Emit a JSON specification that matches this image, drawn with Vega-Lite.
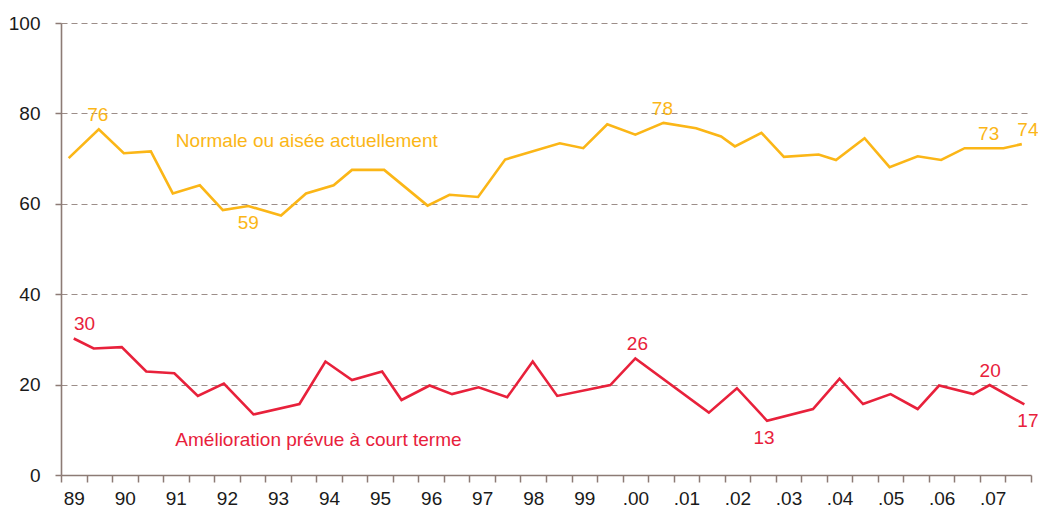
{
  "$schema": "https://vega.github.io/schema/vega-lite/v6.json",
  "width": 970,
  "height": 452,
  "autosize": {"type": "none"},
  "padding": {"left": 61, "top": 23, "right": 7, "bottom": 34},
  "background": "white",
  "config": {"view": {"stroke": null}, "font": "Liberation Sans", "text": {"font": "Liberation Sans"}},
  "datasets": {
    "lines": [
      {"series": "Normale", "t": 1989.15, "v": 70.1},
      {"series": "Normale", "t": 1989.74, "v": 76.5},
      {"series": "Normale", "t": 1990.23, "v": 71.2},
      {"series": "Normale", "t": 1990.76, "v": 71.6},
      {"series": "Normale", "t": 1991.19, "v": 62.3},
      {"series": "Normale", "t": 1991.72, "v": 64.1},
      {"series": "Normale", "t": 1992.17, "v": 58.6},
      {"series": "Normale", "t": 1992.67, "v": 59.5},
      {"series": "Normale", "t": 1993.31, "v": 57.4},
      {"series": "Normale", "t": 1993.80, "v": 62.3},
      {"series": "Normale", "t": 1994.34, "v": 64.1},
      {"series": "Normale", "t": 1994.70, "v": 67.5},
      {"series": "Normale", "t": 1995.33, "v": 67.5},
      {"series": "Normale", "t": 1996.18, "v": 59.6},
      {"series": "Normale", "t": 1996.61, "v": 62.0},
      {"series": "Normale", "t": 1997.17, "v": 61.5},
      {"series": "Normale", "t": 1997.70, "v": 69.8},
      {"series": "Normale", "t": 1998.77, "v": 73.4},
      {"series": "Normale", "t": 1999.23, "v": 72.3},
      {"series": "Normale", "t": 1999.70, "v": 77.6},
      {"series": "Normale", "t": 2000.25, "v": 75.3},
      {"series": "Normale", "t": 2000.80, "v": 77.9},
      {"series": "Normale", "t": 2001.44, "v": 76.7},
      {"series": "Normale", "t": 2001.93, "v": 74.9},
      {"series": "Normale", "t": 2002.20, "v": 72.7},
      {"series": "Normale", "t": 2002.72, "v": 75.7},
      {"series": "Normale", "t": 2003.16, "v": 70.4},
      {"series": "Normale", "t": 2003.84, "v": 70.9},
      {"series": "Normale", "t": 2004.18, "v": 69.7},
      {"series": "Normale", "t": 2004.74, "v": 74.5},
      {"series": "Normale", "t": 2005.23, "v": 68.1},
      {"series": "Normale", "t": 2005.78, "v": 70.5},
      {"series": "Normale", "t": 2006.24, "v": 69.7},
      {"series": "Normale", "t": 2006.70, "v": 72.3},
      {"series": "Normale", "t": 2007.19, "v": 72.3},
      {"series": "Normale", "t": 2007.46, "v": 72.3},
      {"series": "Normale", "t": 2007.82, "v": 73.2},
      {"series": "Amelioration", "t": 1989.25, "v": 30.2},
      {"series": "Amelioration", "t": 1989.64, "v": 28.0},
      {"series": "Amelioration", "t": 1990.19, "v": 28.3},
      {"series": "Amelioration", "t": 1990.67, "v": 22.9},
      {"series": "Amelioration", "t": 1991.22, "v": 22.5},
      {"series": "Amelioration", "t": 1991.68, "v": 17.5},
      {"series": "Amelioration", "t": 1992.19, "v": 20.2},
      {"series": "Amelioration", "t": 1992.77, "v": 13.4},
      {"series": "Amelioration", "t": 1993.67, "v": 15.7},
      {"series": "Amelioration", "t": 1994.18, "v": 25.1},
      {"series": "Amelioration", "t": 1994.70, "v": 21.0},
      {"series": "Amelioration", "t": 1995.29, "v": 22.9},
      {"series": "Amelioration", "t": 1995.67, "v": 16.6},
      {"series": "Amelioration", "t": 1996.22, "v": 19.8},
      {"series": "Amelioration", "t": 1996.66, "v": 17.9},
      {"series": "Amelioration", "t": 1997.18, "v": 19.4},
      {"series": "Amelioration", "t": 1997.74, "v": 17.2},
      {"series": "Amelioration", "t": 1998.24, "v": 25.1},
      {"series": "Amelioration", "t": 1998.72, "v": 17.5},
      {"series": "Amelioration", "t": 1999.76, "v": 19.9},
      {"series": "Amelioration", "t": 2000.25, "v": 25.8},
      {"series": "Amelioration", "t": 2001.69, "v": 13.8},
      {"series": "Amelioration", "t": 2002.24, "v": 19.2},
      {"series": "Amelioration", "t": 2002.83, "v": 12.0},
      {"series": "Amelioration", "t": 2003.73, "v": 14.6},
      {"series": "Amelioration", "t": 2004.25, "v": 21.3},
      {"series": "Amelioration", "t": 2004.71, "v": 15.7},
      {"series": "Amelioration", "t": 2005.25, "v": 17.9},
      {"series": "Amelioration", "t": 2005.78, "v": 14.6},
      {"series": "Amelioration", "t": 2006.20, "v": 19.8},
      {"series": "Amelioration", "t": 2006.87, "v": 17.9},
      {"series": "Amelioration", "t": 2007.19, "v": 19.9},
      {"series": "Amelioration", "t": 2007.87, "v": 15.6}
    ],
    "values": [
      {"series": "Normale", "t": 1989.72, "v": 76.5, "text": "76", "pos": "above"},
      {"series": "Normale", "t": 1992.67, "v": 59.5, "text": "59", "pos": "below"},
      {"series": "Normale", "t": 2000.78, "v": 77.9, "text": "78", "pos": "above"},
      {"series": "Normale", "t": 2007.17, "v": 72.3, "text": "73", "pos": "above"},
      {"series": "Normale", "t": 2007.94, "v": 73.2, "text": "74", "pos": "above"},
      {"series": "Amelioration", "t": 1989.46, "v": 30.2, "text": "30", "pos": "above"},
      {"series": "Amelioration", "t": 2000.29, "v": 25.8, "text": "26", "pos": "above"},
      {"series": "Amelioration", "t": 2002.77, "v": 12.0, "text": "13", "pos": "below"},
      {"series": "Amelioration", "t": 2007.20, "v": 19.9, "text": "20", "pos": "above"},
      {"series": "Amelioration", "t": 2007.94, "v": 15.6, "text": "17", "pos": "below"}
    ],
    "names": [
      {"series": "Normale", "t": 1991.25, "v": 72.5, "text": "Normale ou aisée actuellement"},
      {"series": "Amelioration", "t": 1991.24, "v": 6.5, "text": "Amélioration prévue à court terme"}
    ]
  },
  "layer": [
    {
      "data": {"name": "lines"},
      "mark": {"type": "line", "strokeWidth": 2.6, "strokeJoin": "miter"},
      "encoding": {
        "x": {
          "field": "t",
          "type": "quantitative",
          "scale": {"domain": [1989, 2008], "nice": false, "zero": false},
          "axis": {
            "title": null,
            "grid": false,
            "tickCount": 200,
            "values": [1989, 1989.25, 1989.5, 1990, 1990.25, 1990.5, 1991, 1991.25, 1991.5, 1992, 1992.25, 1992.5, 1993, 1993.25, 1993.5, 1994, 1994.25, 1994.5, 1995, 1995.25, 1995.5, 1996, 1996.25, 1996.5, 1997, 1997.25, 1997.5, 1998, 1998.25, 1998.5, 1999, 1999.25, 1999.5, 2000, 2000.25, 2000.5, 2001, 2001.25, 2001.5, 2002, 2002.25, 2002.5, 2003, 2003.25, 2003.5, 2004, 2004.25, 2004.5, 2005, 2005.25, 2005.5, 2006, 2006.25, 2006.5, 2007, 2007.25, 2007.5, 2008],
            "labelExpr": "datum.value % 1 === 0.25 ? (datum.value < 2000 ? '' + floor(datum.value - 1900) : '.' + format(floor(datum.value) - 2000, '02d')) : ''",
            "tickOpacity": {"condition": {"test": "datum.value % 0.5 === 0", "value": 1}, "value": 0},
            "tickSize": 7,
            "tickWidth": 1.5,
            "tickColor": "#8C7B75",
            "domainColor": "#8C7B75",
            "domainWidth": 1.6,
            "labelFontSize": 19,
            "labelColor": "#1a1a1a",
            "labelPadding": 7,
            "labelOverlap": false,
            "labelBound": false,
            "labelFlush": false
          }
        },
        "y": {
          "field": "v",
          "type": "quantitative",
          "scale": {"domain": [0, 100], "nice": false},
          "axis": {
            "title": null,
            "values": [0, 20, 40, 60, 80, 100],
            "tickCount": 20,
            "grid": true,
            "gridDash": [6, 4],
            "gridColor": "#9C8E89",
            "gridWidth": 1.2,
            "gridOpacity": {"condition": {"test": "datum.value === 0", "value": 0}, "value": 1},
            "tickSize": 6,
            "tickWidth": 1.5,
            "tickColor": "#8C7B75",
            "domainColor": "#8C7B75",
            "domainWidth": 1.6,
            "labelFontSize": 19,
            "labelColor": "#1a1a1a",
            "labelPadding": 15,
            "labelBound": false,
            "labelFlush": false
          }
        },
        "color": {
          "field": "series",
          "type": "nominal",
          "scale": {"domain": ["Normale", "Amelioration"], "range": ["#FBB617", "#E8213B"]},
          "legend": null
        }
      }
    },
    {
      "data": {"name": "values"},
      "transform": [{"filter": "datum.pos === 'above'"}],
      "mark": {"type": "text", "fontSize": 19, "dy": -14, "align": "center", "baseline": "middle"},
      "encoding": {
        "x": {"field": "t", "type": "quantitative"},
        "y": {"field": "v", "type": "quantitative"},
        "text": {"field": "text"},
        "color": {"field": "series", "type": "nominal", "legend": null}
      }
    },
    {
      "data": {"name": "values"},
      "transform": [{"filter": "datum.pos === 'below'"}],
      "mark": {"type": "text", "fontSize": 19, "dy": 17, "align": "center", "baseline": "middle"},
      "encoding": {
        "x": {"field": "t", "type": "quantitative"},
        "y": {"field": "v", "type": "quantitative"},
        "text": {"field": "text"},
        "color": {"field": "series", "type": "nominal", "legend": null}
      }
    },
    {
      "data": {"name": "names"},
      "mark": {"type": "text", "fontSize": 19, "align": "left", "baseline": "alphabetic"},
      "encoding": {
        "x": {"field": "t", "type": "quantitative"},
        "y": {"field": "v", "type": "quantitative"},
        "text": {"field": "text"},
        "color": {"field": "series", "type": "nominal", "legend": null}
      }
    }
  ]
}
